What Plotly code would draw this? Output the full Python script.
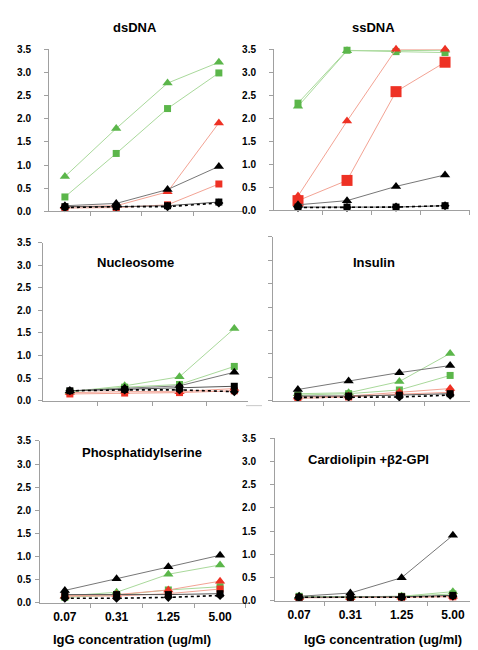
import plotly.graph_objects as go

W, H = 478, 650

categories = ["0.07", "0.31", "1.25", "5.00"]
y_ticks = [0.0, 0.5, 1.0, 1.5, 2.0, 2.5, 3.0, 3.5]

# dsDNA
dsdna_g_tri = [0.75, 1.79, 2.77, 3.22]
dsdna_g_sq = [0.31, 1.25, 2.22, 2.99]
dsdna_r_tri = [0.10, 0.12, 0.42, 1.91]
dsdna_r_sq = [0.07, 0.08, 0.14, 0.59]
dsdna_k_tri = [0.12, 0.17, 0.47, 0.97]
dsdna_k_sq = [0.10, 0.10, 0.12, 0.20]
dsdna_k_dia = [0.08, 0.10, 0.10, 0.18]

# ssDNA
ssdna_g_tri = [2.26, 3.47, 3.47, 3.48]
ssdna_g_sq = [2.33, 3.48, 3.45, 3.43]
ssdna_r_tri = [0.31, 1.94, 3.50, 3.50]
ssdna_r_sq = [0.21, 0.65, 2.58, 3.22]
ssdna_k_tri = [0.12, 0.21, 0.52, 0.77]
ssdna_k_sq = [0.07, 0.07, 0.07, 0.10]
ssdna_k_dia = [0.06, 0.06, 0.07, 0.10]

# Nucleosome
nuc_g_tri = [0.20, 0.33, 0.53, 1.60]
nuc_g_sq = [0.20, 0.30, 0.36, 0.76]
nuc_r_tri = [0.18, 0.20, 0.20, 0.27]
nuc_r_sq = [0.15, 0.17, 0.18, 0.22]
nuc_k_tri = [0.22, 0.28, 0.33, 0.63]
nuc_k_sq = [0.22, 0.25, 0.28, 0.32]
nuc_k_dia = [0.22, 0.24, 0.24, 0.20]

# Insulin
ins_g_tri = [0.15, 0.17, 0.41, 1.01]
ins_g_sq = [0.12, 0.15, 0.23, 0.54]
ins_r_tri = [0.08, 0.10, 0.18, 0.26]
ins_r_sq = [0.05, 0.08, 0.14, 0.18]
ins_k_tri = [0.24, 0.42, 0.60, 0.75]
ins_k_sq = [0.10, 0.10, 0.12, 0.15]
ins_k_dia = [0.07, 0.08, 0.08, 0.12]

# Phosphatidylserine
ps_g_tri = [0.15, 0.23, 0.62, 0.82]
ps_g_sq = [0.12, 0.17, 0.28, 0.35]
ps_r_tri = [0.15, 0.18, 0.28, 0.47]
ps_r_sq = [0.15, 0.15, 0.20, 0.30]
ps_k_tri = [0.27, 0.52, 0.78, 1.03]
ps_k_sq = [0.18, 0.18, 0.18, 0.20]
ps_k_dia = [0.10, 0.10, 0.12, 0.16]

# Cardiolipin + b2-GPI
cl_g_tri = [0.10, 0.09, 0.10, 0.20]
cl_g_sq = [0.10, 0.09, 0.10, 0.15]
cl_r_tri = [0.07, 0.07, 0.08, 0.10]
cl_r_sq = [0.07, 0.07, 0.08, 0.09]
cl_k_tri = [0.10, 0.17, 0.50, 1.41]
cl_k_sq = [0.08, 0.08, 0.09, 0.12]
cl_k_dia = [0.08, 0.08, 0.08, 0.10]

titles = ["dsDNA", "ssDNA", "Nucleosome", "Insulin", "Phosphatidylserine", "Cardiolipin +β2-GPI"]
x_title = "IgG concentration (ug/ml)"

panels = [
    [dsdna_g_tri, dsdna_g_sq, dsdna_r_tri, dsdna_r_sq, dsdna_k_tri, dsdna_k_sq, dsdna_k_dia],
    [ssdna_g_tri, ssdna_g_sq, ssdna_r_tri, ssdna_r_sq, ssdna_k_tri, ssdna_k_sq, ssdna_k_dia],
    [nuc_g_tri, nuc_g_sq, nuc_r_tri, nuc_r_sq, nuc_k_tri, nuc_k_sq, nuc_k_dia],
    [ins_g_tri, ins_g_sq, ins_r_tri, ins_r_sq, ins_k_tri, ins_k_sq, ins_k_dia],
    [ps_g_tri, ps_g_sq, ps_r_tri, ps_r_sq, ps_k_tri, ps_k_sq, ps_k_dia],
    [cl_g_tri, cl_g_sq, cl_r_tri, cl_r_sq, cl_k_tri, cl_k_sq, cl_k_dia],
]

GREEN = "#5BB64A"
GREEN_L = "#A9D99B"
RED = "#EE3124"
RED_L = "#F3A394"
BLACK = "#000000"

# style per series: (marker symbol, marker color, line color, line dash, line width, marker size)
styles = [
    ("triangle-up", GREEN, GREEN_L, "solid", 1, 9),
    ("square", GREEN, GREEN_L, "solid", 1, 7),
    ("triangle-up", RED, RED_L, "solid", 1, 9),
    ("square", RED, RED_L, "solid", 1, 7),
    ("triangle-up", BLACK, "#777777", "solid", 1, 9),
    ("square", BLACK, "#555555", "solid", 1, 7),
    ("diamond", BLACK, BLACK, "dot", 1.6, 7),
]

# pixel boxes: (x_left, x_right, y_top(3.5), y_bottom(0), x range, label standoff)
boxes = [
    (41, 236, 36, 201, [-0.31, 3.49], 11),
    (266, 464, 36, 200, [-0.49, 3.55], 11),
    (35, 240, 233, 394, [-0.49, 3.25], 5),
    (265, 467, 227, 394, [-0.49, 3.49], 5),
    (32, 240, 435, 600, [-0.48, 3.54], 2),
    (267, 470, 432, 598, [-0.47, 3.49], 12),
]

title_pos = [(127, 14), (365, 14), (128, 253), (366, 253), (134, 447), (360, 454)]

fig = go.Figure()
AX = "#A0A0A0"
FONT = "Liberation Sans, Arial, sans-serif"

for i, (series, box) in enumerate(zip(panels, boxes)):
    n = i + 1
    xa = "x" if n == 1 else f"x{n}"
    ya = "y" if n == 1 else f"y{n}"
    for j, vals in enumerate(series):
        sym, mc, lc, dash, lw, ms = styles[j]
        if i == 1 and j == 3:
            ms = 11
        fig.add_trace(go.Scatter(
            x=categories, y=vals, xaxis=xa, yaxis=ya, mode="lines+markers",
            line=dict(color=lc, width=lw, dash=dash),
            marker=dict(symbol=sym, color=mc, size=ms, line=dict(width=0)),
            cliponaxis=False, showlegend=False, hoverinfo="skip"))
    xl, xr, yt, yb, xr_range, standoff = box
    bottom = i >= 4
    fig.layout[f"xaxis{'' if n == 1 else n}"] = dict(
        domain=[xl / W, xr / W], anchor=ya, type="category", range=xr_range,
        showline=True, linecolor=AX, linewidth=1, ticks="outside", tickson="boundaries",
        ticklen=4, tickcolor=AX, showgrid=False, zeroline=False,
        showticklabels=bottom, tickfont=dict(family=FONT, size=12, color="#000", weight="bold"),
        ticklabelstandoff=3, fixedrange=True)
    fig.layout[f"yaxis{'' if n == 1 else n}"] = dict(
        domain=[1 - yb / H, 1 - yt / H], anchor=xa, range=[0, 3.5],
        tickvals=y_ticks, tickformat=".1f",
        showline=True, linecolor=AX, linewidth=1, ticks="outside", ticklen=4, tickcolor=AX,
        showgrid=False, zeroline=False, showticklabels=(i != 3),
        tickfont=dict(family=FONT, size=10, color="#000", weight="bold"),
        ticklabelstandoff=standoff, fixedrange=True)

annotations = []
for t, (tx, ty) in zip(titles, title_pos):
    annotations.append(dict(text=f"<b>{t}</b>", x=tx / W, y=1 - ty / H, xref="paper", yref="paper",
                            showarrow=False, xanchor="center", yanchor="middle",
                            font=dict(family=FONT, size=13, color="#000")))
for tx in (124, 375):
    annotations.append(dict(text=f"<b>{x_title}</b>", x=tx / W, y=1 - 637 / H, xref="paper", yref="paper",
                            showarrow=False, xanchor="center", yanchor="middle",
                            font=dict(family=FONT, size=13, color="#000")))

fig.update_layout(
    width=W, height=H, margin=dict(l=0, r=0, t=0, b=0),
    paper_bgcolor="white", plot_bgcolor="white",
    annotations=annotations,
    shapes=[dict(type="line", xref="paper", yref="paper", x0=238 / W, x1=254 / W,
                 y0=1 - 399 / H, y1=1 - 399 / H, line=dict(color="#C8C8C8", width=1))],
)

fig.write_html("out.html")
